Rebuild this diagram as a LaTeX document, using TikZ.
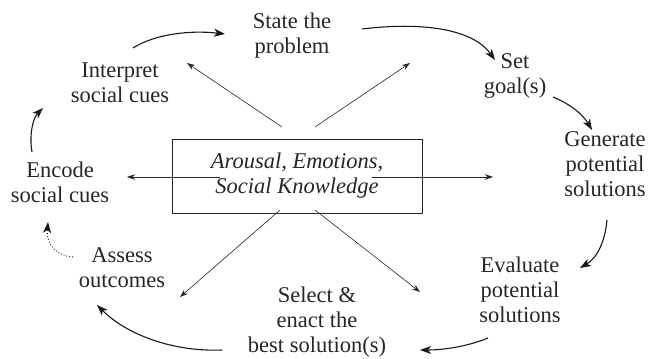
\documentclass[tikz,border=0pt]{standalone}
\usepackage{fontspec}
\setmainfont{Liberation Serif}
\usetikzlibrary{arrows.meta}

\begin{document}
\begin{tikzpicture}[x=1pt,y=-1pt,
  label/.style={inner sep=0pt,align=center,anchor=base,text=black!85,
    font=\fontsize{22.5}{24.8}\selectfont},
  hub/.style={draw=black!85,line width=1pt,minimum width=250pt,minimum height=74pt,
    inner sep=0pt,align=center,text=black!85,
    font=\fontsize{22.5}{25}\selectfont\itshape},
  ray/.style={draw=black!85,line width=0.6pt,-{Stealth[length=8pt,width=5.5pt]}},
  cycle/.style={draw=black!90,line width=1.1pt,-{Stealth[length=11pt,width=8pt,inset=3pt]}},
  backloop/.style={cycle,line width=0.9pt,dotted}]
\useasboundingbox (0,0) rectangle (649,359);

% steps of the problem-solving cycle (placed by the baseline of the last line)
\node[label] (state)  at (292,53)  {State the\\problem};
\node[label] (goal)   at (515,93)  {Set\\goal(s)};
\node[label] (gen)    at (605,196) {Generate\\potential\\solutions};
\node[label] (eval)   at (520,322) {Evaluate\\potential\\solutions};
\node[label] (select) at (317,352) {Select \&\\enact the\\best solution(s)};
\node[label] (assess) at (122,287) {Assess\\outcomes};
\node[label] (encode) at (60,202)  {Encode\\social cues};
\node[label] (interp) at (120,102) {Interpret\\social cues};

% central database box
\node[hub] (core) at (297,176) {Arousal, Emotions,\\Social Knowledge};

% ends of the connectors
\coordinate (r1s) at (282,127); \coordinate (r1e) at (187,63);
\coordinate (r2s) at (315,127); \coordinate (r2e) at (410,63);
\coordinate (r3s) at (220,177); \coordinate (r3e) at (127,177);
\coordinate (r4s) at (372,177); \coordinate (r4e) at (493,177);
\coordinate (r5s) at (280,210); \coordinate (r5e) at (180,297);
\coordinate (r6s) at (315,210); \coordinate (r6e) at (420,292);

\coordinate (c1s) at (133,48);  \coordinate (c1e) at (225,34);
\coordinate (c2s) at (362,29);  \coordinate (c2e) at (495,60);
\coordinate (c3s) at (553,97);  \coordinate (c3e) at (592,130);
\coordinate (c4s) at (607,220); \coordinate (c4e) at (580,268);
\coordinate (c5s) at (488,338); \coordinate (c5e) at (420,350);
\coordinate (c6s) at (222,350); \coordinate (c6e) at (97,305);
\coordinate (c7s) at (32,152);  \coordinate (c7e) at (43,108);
\coordinate (c8s) at (73,257);  \coordinate (c8e) at (48,222);

% influence of the database on each step
\draw[ray] (r1s) -- (r1e);
\draw[ray] (r2s) -- (r2e);
\draw[ray] (r3s) -- (r3e);
\draw[ray] (r4s) -- (r4e);
\draw[ray] (r5s) -- (r5e);
\draw[ray] (r6s) -- (r6e);

% the cycle
\draw[cycle] (c1s) .. controls (155,34) and (190,30) .. (c1e);
\draw[cycle] (c2s) .. controls (420,22) and (472,28) .. (c2e);
\draw[cycle] (c3s) .. controls (568,103) and (582,113) .. (c3e);
\draw[cycle] (c4s) .. controls (605,242) and (597,258) .. (c4e);
\draw[cycle] (c5s) .. controls (466,347) and (442,350) .. (c5e);
\draw[cycle] (c6s) .. controls (172,352) and (126,334) .. (c6e);
\draw[cycle] (c7s) .. controls (29,135) and (33,118) .. (c7e);
\draw[backloop] (c8s) .. controls (58,256) and (46,246) .. (c8e);
\end{tikzpicture}
\end{document}
